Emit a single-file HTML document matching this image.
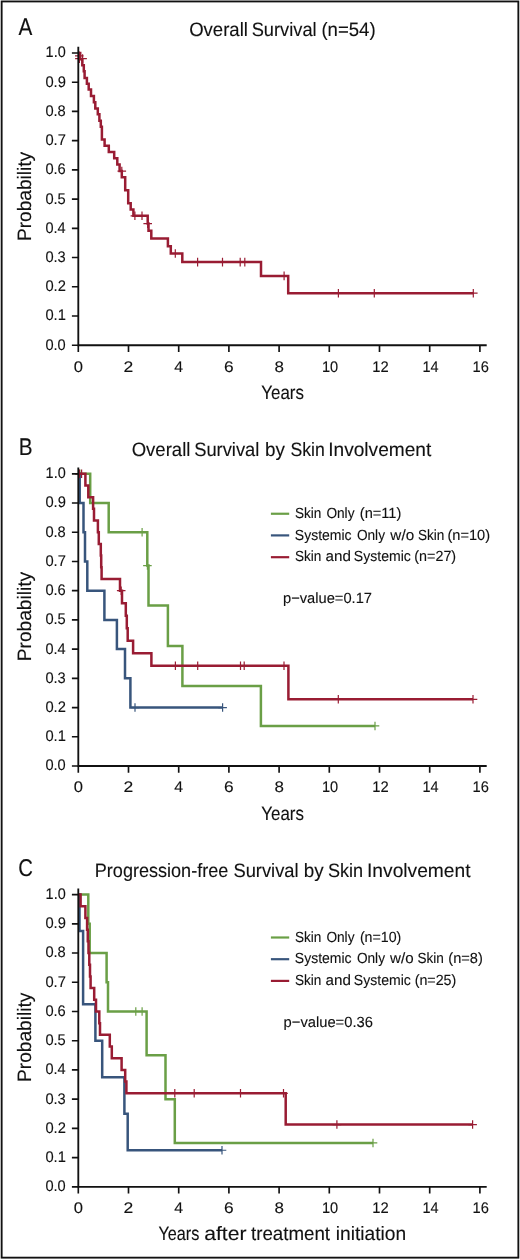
<!DOCTYPE html>
<html><head><meta charset="utf-8"><title>Survival curves</title>
<style>html,body{margin:0;padding:0;background:#fff}svg{display:block}text{font-family:"Liberation Sans",sans-serif;fill:#111;stroke:#111;stroke-width:0.12px;text-rendering:geometricPrecision}svg{will-change:transform}</style></head><body>
<svg width="520" height="1260" viewBox="0 0 520 1260">
<rect x="0" y="0" width="520" height="1260" fill="#ffffff"/>
<rect x="1.65" y="1.45" width="516.7" height="1256.2" fill="none" stroke="#111" stroke-width="1.85"/>
<path d="M78.3,53 H80.2 V59.2 H82.3 V65.2 H83.8 V71.3 H84.6 V78.1 H86.9 V83.8 H88.7 V89.5 H91 V95.9 H93.9 V102.2 H95.3 V108.6 H97.8 V114.2 H99.4 V120.8 H100.8 V126.8 H101.9 V139.6 H104.6 V145.8 H108.8 V151.9 H114.2 V158.3 H117.3 V164.6 H119.6 V171.1 H121.8 V177.2 H125.2 V190.3 H128.2 V203.3 H130.7 V209.5 H133.4 V215.8 H147.7 V223.6 H148.5 V230.8 H151.3 V238.5 H167.9 V246.2 H170.8 V253.5 H182.3 V262.1 H261 V275.9 H288.2 V293.2 H473.3" fill="none" stroke="#991c33" stroke-width="2.5" stroke-linejoin="miter"/>
<path d="M79.3,51.6 V60.2 M75,55.9 H83.6 M79.4,54.3 V62.9 M75.1,58.6 H83.7 M82.6,54.3 V62.9 M78.3,58.6 H86.9 M121.8,166.8 V175.4 M117.5,171.1 H126.1 M134.9,211.5 V220.1 M130.6,215.8 H139.2 M142,211.5 V220.1 M137.7,215.8 H146.3 M147.7,219.3 V227.9 M143.4,223.6 H152 M175.3,249.2 V257.8 M171,253.5 H179.6 M197.6,257.8 V266.4 M193.3,262.1 H201.9 M222.5,257.8 V266.4 M218.2,262.1 H226.8 M240.2,257.8 V266.4 M235.9,262.1 H244.5 M244.8,257.8 V266.4 M240.5,262.1 H249.1 M284.1,271.6 V280.2 M279.8,275.9 H288.4 M338.4,288.9 V297.5 M334.1,293.2 H342.7 M374.3,288.9 V297.5 M370,293.2 H378.6 M473.3,288.9 V297.5 M469,293.2 H477.6" fill="none" stroke="#991c33" stroke-width="1.2"/>
<path d="M78.3,473.8 H90.2 V503.02 H108.7 V532.24 H147.3 V565.55 H148.5 V605.58 H167.9 V645.91 H182.4 V685.94 H260.9 V725.97 H375" fill="none" stroke="#6a9f46" stroke-width="2.5" stroke-linejoin="miter"/>
<path d="M79.9,469.5 V478.1 M75.6,473.8 H84.2 M142.1,527.94 V536.54 M137.8,532.24 H146.4 M147.4,561.25 V569.85 M143.1,565.55 H151.7 M375,721.67 V730.27 M370.7,725.97 H379.3" fill="none" stroke="#6a9f46" stroke-width="1.2"/>
<path d="M78.3,473.8 H79.7 V503.02 H83.5 V532.24 H85 V561.46 H87.3 V590.68 H104.4 V619.9 H116.9 V649.12 H125 V678.34 H130.4 V707.56 H222.6" fill="none" stroke="#38557c" stroke-width="2.5" stroke-linejoin="miter"/>
<path d="M135,703.26 V711.86 M130.7,707.56 H139.3 M222.6,703.26 V711.86 M218.3,707.56 H226.9" fill="none" stroke="#38557c" stroke-width="1.2"/>
<path d="M78.3,473.8 H85.4 V485.49 H88.3 V497.18 H93.1 V508.86 H94 V520.55 H97.9 V532.24 H98.8 V543.93 H100.8 V555.62 H101.2 V567.3 H101.6 V578.99 H120 V590.68 H122 V603.24 H125.8 V615.81 H126.8 V628.37 H127.7 V640.65 H133.1 V653.21 H151.4 V665.78 H288.4 V699.29 H473" fill="none" stroke="#991c33" stroke-width="2.5" stroke-linejoin="miter"/>
<path d="M79.4,469.5 V478.1 M75.1,473.8 H83.7 M81.6,469.5 V478.1 M77.3,473.8 H85.9 M121.2,586.38 V594.98 M116.9,590.68 H125.5 M175.4,661.48 V670.08 M171.1,665.78 H179.7 M197.7,661.48 V670.08 M193.4,665.78 H202 M240.5,661.48 V670.08 M236.2,665.78 H244.8 M244.2,661.48 V670.08 M239.9,665.78 H248.5 M284,661.48 V670.08 M279.7,665.78 H288.3 M338.3,694.99 V703.59 M334,699.29 H342.6 M473,694.99 V703.59 M468.7,699.29 H477.3" fill="none" stroke="#991c33" stroke-width="1.2"/>
<path d="M270.9,513.75 H289.2" stroke="#6a9f46" stroke-width="2.2" fill="none"/>
<text x="294.89" y="518.25" font-size="14.7" text-anchor="start" textLength="26.43" lengthAdjust="spacingAndGlyphs" >Skin</text>
<text x="326.38" y="518.25" font-size="14.7" text-anchor="start" textLength="28.13" lengthAdjust="spacingAndGlyphs" >Only</text>
<text x="359.87" y="518.25" font-size="14.7" text-anchor="start" textLength="41.49" lengthAdjust="spacingAndGlyphs" >(n=11)</text>
<path d="M270.9,535.4 H289.2" stroke="#38557c" stroke-width="2.2" fill="none"/>
<text x="294.87" y="539.75" font-size="14.7" text-anchor="start" textLength="56.75" lengthAdjust="spacingAndGlyphs" >Systemic</text>
<text x="356.88" y="539.75" font-size="14.7" text-anchor="start" textLength="28.13" lengthAdjust="spacingAndGlyphs" >Only</text>
<text x="390.38" y="539.75" font-size="14.7" text-anchor="start" textLength="23.75" lengthAdjust="spacingAndGlyphs" >w/o</text>
<text x="417.89" y="539.75" font-size="14.7" text-anchor="start" textLength="26.43" lengthAdjust="spacingAndGlyphs" >Skin</text>
<text x="447.42" y="539.75" font-size="14.7" text-anchor="start" textLength="42.63" lengthAdjust="spacingAndGlyphs" >(n=10)</text>
<path d="M270.9,557.2 H289.2" stroke="#991c33" stroke-width="2.2" fill="none"/>
<text x="294.89" y="561.35" font-size="14.7" text-anchor="start" textLength="26.43" lengthAdjust="spacingAndGlyphs" >Skin</text>
<text x="325.64" y="561.35" font-size="14.7" text-anchor="start" textLength="25.32" lengthAdjust="spacingAndGlyphs" >and</text>
<text x="353.87" y="561.35" font-size="14.7" text-anchor="start" textLength="57" lengthAdjust="spacingAndGlyphs" >Systemic</text>
<text x="414.34" y="561.35" font-size="14.7" text-anchor="start" textLength="41.8" lengthAdjust="spacingAndGlyphs" >(n=27)</text>
<text x="283.02" y="602.8" font-size="14.7" text-anchor="start" textLength="88.96" lengthAdjust="spacingAndGlyphs" >p−value=0.17</text>
<path d="M78.3,894.6 H88.3 V923.82 H89.7 V953.04 H106.6 V982.26 H108 V1011.48 H146.6 V1055.31 H165.5 V1099.14 H174.8 V1142.97 H373" fill="none" stroke="#6a9f46" stroke-width="2.5" stroke-linejoin="miter"/>
<path d="M135.8,1007.18 V1015.78 M131.5,1011.48 H140.1 M142.1,1007.18 V1015.78 M137.8,1011.48 H146.4 M373,1138.67 V1147.27 M368.7,1142.97 H377.3" fill="none" stroke="#6a9f46" stroke-width="1.2"/>
<path d="M78.3,894.6 H79.5 V931.12 H83.1 V1004.17 H95.4 V1040.7 H102.2 V1077.22 H124.4 V1113.75 H127.7 V1150.27 H222" fill="none" stroke="#38557c" stroke-width="2.5" stroke-linejoin="miter"/>
<path d="M222,1145.97 V1154.57 M217.7,1150.27 H226.3" fill="none" stroke="#38557c" stroke-width="1.2"/>
<path d="M78.3,894.6 H80.6 V906.29 H85.4 V917.98 H87.1 V929.66 H87.8 V941.35 H88.5 V953.04 H89.3 V964.73 H90 V976.42 H90.6 V988.1 H94.2 V999.79 H96 V1011.48 H99.3 V1023.17 H100 V1034.86 H109.8 V1046.54 H111.8 V1058.23 H121.6 V1069.92 H125.2 V1081.61 H126.4 V1093.3 H285.7 V1124.56 H472.6" fill="none" stroke="#991c33" stroke-width="2.5" stroke-linejoin="miter"/>
<path d="M174.8,1089 V1097.6 M170.5,1093.3 H179.1 M194.2,1089 V1097.6 M189.9,1093.3 H198.5 M240.5,1089 V1097.6 M236.2,1093.3 H244.8 M283.5,1089 V1097.6 M279.2,1093.3 H287.8 M336.9,1120.26 V1128.86 M332.6,1124.56 H341.2 M472.6,1120.26 V1128.86 M468.3,1124.56 H476.9" fill="none" stroke="#991c33" stroke-width="1.2"/>
<path d="M270.9,937.5 H289.2" stroke="#6a9f46" stroke-width="2.2" fill="none"/>
<text x="294.89" y="941.65" font-size="14.7" text-anchor="start" textLength="26.43" lengthAdjust="spacingAndGlyphs" >Skin</text>
<text x="326.38" y="941.65" font-size="14.7" text-anchor="start" textLength="28.13" lengthAdjust="spacingAndGlyphs" >Only</text>
<text x="359.9" y="941.65" font-size="14.7" text-anchor="start" textLength="41.43" lengthAdjust="spacingAndGlyphs" >(n=10)</text>
<path d="M270.9,959.2 H289.2" stroke="#38557c" stroke-width="2.2" fill="none"/>
<text x="294.87" y="963.35" font-size="14.7" text-anchor="start" textLength="56.75" lengthAdjust="spacingAndGlyphs" >Systemic</text>
<text x="356.88" y="963.35" font-size="14.7" text-anchor="start" textLength="28.13" lengthAdjust="spacingAndGlyphs" >Only</text>
<text x="390.08" y="963.35" font-size="14.7" text-anchor="start" textLength="23.55" lengthAdjust="spacingAndGlyphs" >w/o</text>
<text x="417.39" y="963.35" font-size="14.7" text-anchor="start" textLength="26.43" lengthAdjust="spacingAndGlyphs" >Skin</text>
<text x="448.37" y="963.35" font-size="14.7" text-anchor="start" textLength="34.46" lengthAdjust="spacingAndGlyphs" >(n=8)</text>
<path d="M270.9,980.9 H289.2" stroke="#991c33" stroke-width="2.2" fill="none"/>
<text x="294.89" y="985.05" font-size="14.7" text-anchor="start" textLength="26.43" lengthAdjust="spacingAndGlyphs" >Skin</text>
<text x="325.64" y="985.05" font-size="14.7" text-anchor="start" textLength="25.32" lengthAdjust="spacingAndGlyphs" >and</text>
<text x="353.87" y="985.05" font-size="14.7" text-anchor="start" textLength="57" lengthAdjust="spacingAndGlyphs" >Systemic</text>
<text x="414.64" y="985.05" font-size="14.7" text-anchor="start" textLength="41.69" lengthAdjust="spacingAndGlyphs" >(n=25)</text>
<text x="283.62" y="1026.5" font-size="14.7" text-anchor="start" textLength="89.29" lengthAdjust="spacingAndGlyphs" >p−value=0.36</text>
<path d="M78.3,46.8 V345.2 H486.7" fill="none" stroke="#111111" stroke-width="1.85"/>
<path d="M78.3,345.2 H71.9 M78.3,315.98 H71.9 M78.3,286.76 H71.9 M78.3,257.54 H71.9 M78.3,228.32 H71.9 M78.3,199.1 H71.9 M78.3,169.88 H71.9 M78.3,140.66 H71.9 M78.3,111.44 H71.9 M78.3,82.22 H71.9 M78.3,53 H71.9 M78.3,345.2 V351.9 M128.5,345.2 V351.9 M178.7,345.2 V351.9 M228.9,345.2 V351.9 M279.1,345.2 V351.9 M329.3,345.2 V351.9 M379.5,345.2 V351.9 M429.7,345.2 V351.9 M479.9,345.2 V351.9" fill="none" stroke="#111111" stroke-width="1.65"/>
<text x="45.39" y="349.65" font-size="15.4" text-anchor="start" textLength="20.33" lengthAdjust="spacingAndGlyphs" stroke="#111" stroke-width="0.25">0.0</text>
<text x="45.38" y="320.43" font-size="15.4" text-anchor="start" textLength="20.48" lengthAdjust="spacingAndGlyphs" stroke="#111" stroke-width="0.25">0.1</text>
<text x="45.38" y="291.21" font-size="15.4" text-anchor="start" textLength="20.48" lengthAdjust="spacingAndGlyphs" stroke="#111" stroke-width="0.25">0.2</text>
<text x="45.39" y="261.99" font-size="15.4" text-anchor="start" textLength="20.4" lengthAdjust="spacingAndGlyphs" stroke="#111" stroke-width="0.25">0.3</text>
<text x="45.39" y="232.77" font-size="15.4" text-anchor="start" textLength="20.17" lengthAdjust="spacingAndGlyphs" stroke="#111" stroke-width="0.25">0.4</text>
<text x="45.39" y="203.55" font-size="15.4" text-anchor="start" textLength="20.4" lengthAdjust="spacingAndGlyphs" stroke="#111" stroke-width="0.25">0.5</text>
<text x="45.39" y="174.33" font-size="15.4" text-anchor="start" textLength="20.4" lengthAdjust="spacingAndGlyphs" stroke="#111" stroke-width="0.25">0.6</text>
<text x="45.38" y="145.11" font-size="15.4" text-anchor="start" textLength="20.48" lengthAdjust="spacingAndGlyphs" stroke="#111" stroke-width="0.25">0.7</text>
<text x="45.39" y="115.89" font-size="15.4" text-anchor="start" textLength="20.4" lengthAdjust="spacingAndGlyphs" stroke="#111" stroke-width="0.25">0.8</text>
<text x="45.38" y="86.67" font-size="15.4" text-anchor="start" textLength="20.48" lengthAdjust="spacingAndGlyphs" stroke="#111" stroke-width="0.25">0.9</text>
<text x="45.62" y="57.45" font-size="15.4" text-anchor="start" textLength="20.09" lengthAdjust="spacingAndGlyphs" stroke="#111" stroke-width="0.25">1.0</text>
<text x="73.72" y="371.6" font-size="15.4" text-anchor="start" textLength="9.23" lengthAdjust="spacingAndGlyphs" stroke="#111" stroke-width="0.25">0</text>
<text x="123.62" y="371.6" font-size="15.4" text-anchor="start" textLength="9.73" lengthAdjust="spacingAndGlyphs" stroke="#111" stroke-width="0.25">2</text>
<text x="174.38" y="371.6" font-size="15.4" text-anchor="start" textLength="8.78" lengthAdjust="spacingAndGlyphs" stroke="#111" stroke-width="0.25">4</text>
<text x="224.03" y="371.6" font-size="15.4" text-anchor="start" textLength="9.63" lengthAdjust="spacingAndGlyphs" stroke="#111" stroke-width="0.25">6</text>
<text x="274.42" y="371.6" font-size="15.4" text-anchor="start" textLength="9.43" lengthAdjust="spacingAndGlyphs" stroke="#111" stroke-width="0.25">8</text>
<text x="322.01" y="371.6" font-size="15.4" text-anchor="start" textLength="16.24" lengthAdjust="spacingAndGlyphs" stroke="#111" stroke-width="0.25">10</text>
<text x="372.19" y="371.6" font-size="15.4" text-anchor="start" textLength="16.4" lengthAdjust="spacingAndGlyphs" stroke="#111" stroke-width="0.25">12</text>
<text x="422.42" y="371.6" font-size="15.4" text-anchor="start" textLength="16.08" lengthAdjust="spacingAndGlyphs" stroke="#111" stroke-width="0.25">14</text>
<text x="472.6" y="371.6" font-size="15.4" text-anchor="start" textLength="16.32" lengthAdjust="spacingAndGlyphs" stroke="#111" stroke-width="0.25">16</text>
<text x="261.26" y="398.7" font-size="19.4" text-anchor="start" textLength="42.64" lengthAdjust="spacingAndGlyphs" >Years</text>
<g transform="translate(31.4,239.6) rotate(-90)">
<text x="-1.53" y="0" font-size="19.4" text-anchor="start" textLength="89.31" lengthAdjust="spacingAndGlyphs" >Probability</text>
</g>
<text x="189.17" y="36.3" font-size="19.4" text-anchor="start" textLength="58.75" lengthAdjust="spacingAndGlyphs" >Overall</text>
<text x="251.68" y="36.3" font-size="19.4" text-anchor="start" textLength="64.95" lengthAdjust="spacingAndGlyphs" >Survival</text>
<text x="321.39" y="36.3" font-size="19.4" text-anchor="start" textLength="54.2" lengthAdjust="spacingAndGlyphs" >(n=54)</text>
<text x="18.5" y="34.8" font-size="24.2" text-anchor="start" textLength="13.84" lengthAdjust="spacingAndGlyphs" >A</text>
<path d="M78.3,467.6 V766 H486.7" fill="none" stroke="#111111" stroke-width="1.85"/>
<path d="M78.3,766 H71.9 M78.3,736.78 H71.9 M78.3,707.56 H71.9 M78.3,678.34 H71.9 M78.3,649.12 H71.9 M78.3,619.9 H71.9 M78.3,590.68 H71.9 M78.3,561.46 H71.9 M78.3,532.24 H71.9 M78.3,503.02 H71.9 M78.3,473.8 H71.9 M78.3,766 V772.7 M128.5,766 V772.7 M178.7,766 V772.7 M228.9,766 V772.7 M279.1,766 V772.7 M329.3,766 V772.7 M379.5,766 V772.7 M429.7,766 V772.7 M479.9,766 V772.7" fill="none" stroke="#111111" stroke-width="1.65"/>
<text x="45.39" y="770.45" font-size="15.4" text-anchor="start" textLength="20.33" lengthAdjust="spacingAndGlyphs" stroke="#111" stroke-width="0.25">0.0</text>
<text x="45.38" y="741.23" font-size="15.4" text-anchor="start" textLength="20.48" lengthAdjust="spacingAndGlyphs" stroke="#111" stroke-width="0.25">0.1</text>
<text x="45.38" y="712.01" font-size="15.4" text-anchor="start" textLength="20.48" lengthAdjust="spacingAndGlyphs" stroke="#111" stroke-width="0.25">0.2</text>
<text x="45.39" y="682.79" font-size="15.4" text-anchor="start" textLength="20.4" lengthAdjust="spacingAndGlyphs" stroke="#111" stroke-width="0.25">0.3</text>
<text x="45.39" y="653.57" font-size="15.4" text-anchor="start" textLength="20.17" lengthAdjust="spacingAndGlyphs" stroke="#111" stroke-width="0.25">0.4</text>
<text x="45.39" y="624.35" font-size="15.4" text-anchor="start" textLength="20.4" lengthAdjust="spacingAndGlyphs" stroke="#111" stroke-width="0.25">0.5</text>
<text x="45.39" y="595.13" font-size="15.4" text-anchor="start" textLength="20.4" lengthAdjust="spacingAndGlyphs" stroke="#111" stroke-width="0.25">0.6</text>
<text x="45.38" y="565.91" font-size="15.4" text-anchor="start" textLength="20.48" lengthAdjust="spacingAndGlyphs" stroke="#111" stroke-width="0.25">0.7</text>
<text x="45.39" y="536.69" font-size="15.4" text-anchor="start" textLength="20.4" lengthAdjust="spacingAndGlyphs" stroke="#111" stroke-width="0.25">0.8</text>
<text x="45.38" y="507.47" font-size="15.4" text-anchor="start" textLength="20.48" lengthAdjust="spacingAndGlyphs" stroke="#111" stroke-width="0.25">0.9</text>
<text x="45.62" y="478.25" font-size="15.4" text-anchor="start" textLength="20.09" lengthAdjust="spacingAndGlyphs" stroke="#111" stroke-width="0.25">1.0</text>
<text x="73.72" y="792.4" font-size="15.4" text-anchor="start" textLength="9.23" lengthAdjust="spacingAndGlyphs" stroke="#111" stroke-width="0.25">0</text>
<text x="123.62" y="792.4" font-size="15.4" text-anchor="start" textLength="9.73" lengthAdjust="spacingAndGlyphs" stroke="#111" stroke-width="0.25">2</text>
<text x="174.38" y="792.4" font-size="15.4" text-anchor="start" textLength="8.78" lengthAdjust="spacingAndGlyphs" stroke="#111" stroke-width="0.25">4</text>
<text x="224.03" y="792.4" font-size="15.4" text-anchor="start" textLength="9.63" lengthAdjust="spacingAndGlyphs" stroke="#111" stroke-width="0.25">6</text>
<text x="274.42" y="792.4" font-size="15.4" text-anchor="start" textLength="9.43" lengthAdjust="spacingAndGlyphs" stroke="#111" stroke-width="0.25">8</text>
<text x="322.01" y="792.4" font-size="15.4" text-anchor="start" textLength="16.24" lengthAdjust="spacingAndGlyphs" stroke="#111" stroke-width="0.25">10</text>
<text x="372.19" y="792.4" font-size="15.4" text-anchor="start" textLength="16.4" lengthAdjust="spacingAndGlyphs" stroke="#111" stroke-width="0.25">12</text>
<text x="422.42" y="792.4" font-size="15.4" text-anchor="start" textLength="16.08" lengthAdjust="spacingAndGlyphs" stroke="#111" stroke-width="0.25">14</text>
<text x="472.6" y="792.4" font-size="15.4" text-anchor="start" textLength="16.32" lengthAdjust="spacingAndGlyphs" stroke="#111" stroke-width="0.25">16</text>
<text x="261.26" y="819.7" font-size="19.4" text-anchor="start" textLength="42.64" lengthAdjust="spacingAndGlyphs" >Years</text>
<g transform="translate(31.4,659.7) rotate(-90)">
<text x="-1.53" y="0" font-size="19.4" text-anchor="start" textLength="89.31" lengthAdjust="spacingAndGlyphs" >Probability</text>
</g>
<text x="131.67" y="456.4" font-size="19.4" text-anchor="start" textLength="58.75" lengthAdjust="spacingAndGlyphs" >Overall</text>
<text x="194.18" y="456.4" font-size="19.4" text-anchor="start" textLength="65.21" lengthAdjust="spacingAndGlyphs" >Survival</text>
<text x="265.12" y="456.4" font-size="19.4" text-anchor="start" textLength="19.9" lengthAdjust="spacingAndGlyphs" >by</text>
<text x="290.46" y="456.4" font-size="19.4" text-anchor="start" textLength="34.36" lengthAdjust="spacingAndGlyphs" >Skin</text>
<text x="328.28" y="456.4" font-size="19.4" text-anchor="start" textLength="103" lengthAdjust="spacingAndGlyphs" >Involvement</text>
<text x="18.74" y="455" font-size="24.2" text-anchor="start" textLength="13.84" lengthAdjust="spacingAndGlyphs" >B</text>
<path d="M78.3,888.4 V1186.8 H486.7" fill="none" stroke="#111111" stroke-width="1.85"/>
<path d="M78.3,1186.8 H71.9 M78.3,1157.58 H71.9 M78.3,1128.36 H71.9 M78.3,1099.14 H71.9 M78.3,1069.92 H71.9 M78.3,1040.7 H71.9 M78.3,1011.48 H71.9 M78.3,982.26 H71.9 M78.3,953.04 H71.9 M78.3,923.82 H71.9 M78.3,894.6 H71.9 M78.3,1186.8 V1193.5 M128.5,1186.8 V1193.5 M178.7,1186.8 V1193.5 M228.9,1186.8 V1193.5 M279.1,1186.8 V1193.5 M329.3,1186.8 V1193.5 M379.5,1186.8 V1193.5 M429.7,1186.8 V1193.5 M479.9,1186.8 V1193.5" fill="none" stroke="#111111" stroke-width="1.65"/>
<text x="45.39" y="1191.25" font-size="15.4" text-anchor="start" textLength="20.33" lengthAdjust="spacingAndGlyphs" stroke="#111" stroke-width="0.25">0.0</text>
<text x="45.38" y="1162.03" font-size="15.4" text-anchor="start" textLength="20.48" lengthAdjust="spacingAndGlyphs" stroke="#111" stroke-width="0.25">0.1</text>
<text x="45.38" y="1132.81" font-size="15.4" text-anchor="start" textLength="20.48" lengthAdjust="spacingAndGlyphs" stroke="#111" stroke-width="0.25">0.2</text>
<text x="45.39" y="1103.59" font-size="15.4" text-anchor="start" textLength="20.4" lengthAdjust="spacingAndGlyphs" stroke="#111" stroke-width="0.25">0.3</text>
<text x="45.39" y="1074.37" font-size="15.4" text-anchor="start" textLength="20.17" lengthAdjust="spacingAndGlyphs" stroke="#111" stroke-width="0.25">0.4</text>
<text x="45.39" y="1045.15" font-size="15.4" text-anchor="start" textLength="20.4" lengthAdjust="spacingAndGlyphs" stroke="#111" stroke-width="0.25">0.5</text>
<text x="45.39" y="1015.93" font-size="15.4" text-anchor="start" textLength="20.4" lengthAdjust="spacingAndGlyphs" stroke="#111" stroke-width="0.25">0.6</text>
<text x="45.38" y="986.71" font-size="15.4" text-anchor="start" textLength="20.48" lengthAdjust="spacingAndGlyphs" stroke="#111" stroke-width="0.25">0.7</text>
<text x="45.39" y="957.49" font-size="15.4" text-anchor="start" textLength="20.4" lengthAdjust="spacingAndGlyphs" stroke="#111" stroke-width="0.25">0.8</text>
<text x="45.38" y="928.27" font-size="15.4" text-anchor="start" textLength="20.48" lengthAdjust="spacingAndGlyphs" stroke="#111" stroke-width="0.25">0.9</text>
<text x="45.62" y="899.05" font-size="15.4" text-anchor="start" textLength="20.09" lengthAdjust="spacingAndGlyphs" stroke="#111" stroke-width="0.25">1.0</text>
<text x="73.72" y="1213.2" font-size="15.4" text-anchor="start" textLength="9.23" lengthAdjust="spacingAndGlyphs" stroke="#111" stroke-width="0.25">0</text>
<text x="123.62" y="1213.2" font-size="15.4" text-anchor="start" textLength="9.73" lengthAdjust="spacingAndGlyphs" stroke="#111" stroke-width="0.25">2</text>
<text x="174.38" y="1213.2" font-size="15.4" text-anchor="start" textLength="8.78" lengthAdjust="spacingAndGlyphs" stroke="#111" stroke-width="0.25">4</text>
<text x="224.03" y="1213.2" font-size="15.4" text-anchor="start" textLength="9.63" lengthAdjust="spacingAndGlyphs" stroke="#111" stroke-width="0.25">6</text>
<text x="274.42" y="1213.2" font-size="15.4" text-anchor="start" textLength="9.43" lengthAdjust="spacingAndGlyphs" stroke="#111" stroke-width="0.25">8</text>
<text x="322.01" y="1213.2" font-size="15.4" text-anchor="start" textLength="16.24" lengthAdjust="spacingAndGlyphs" stroke="#111" stroke-width="0.25">10</text>
<text x="372.19" y="1213.2" font-size="15.4" text-anchor="start" textLength="16.4" lengthAdjust="spacingAndGlyphs" stroke="#111" stroke-width="0.25">12</text>
<text x="422.42" y="1213.2" font-size="15.4" text-anchor="start" textLength="16.08" lengthAdjust="spacingAndGlyphs" stroke="#111" stroke-width="0.25">14</text>
<text x="472.6" y="1213.2" font-size="15.4" text-anchor="start" textLength="16.32" lengthAdjust="spacingAndGlyphs" stroke="#111" stroke-width="0.25">16</text>
<text x="158.43" y="1239.8" font-size="19.4" text-anchor="start" textLength="40.9" lengthAdjust="spacingAndGlyphs" >Years</text>
<text x="204.15" y="1239.8" font-size="19.4" text-anchor="start" textLength="42.33" lengthAdjust="spacingAndGlyphs" >after</text>
<text x="250.97" y="1239.8" font-size="19.4" text-anchor="start" textLength="79.11" lengthAdjust="spacingAndGlyphs" >treatment</text>
<text x="335.75" y="1239.8" font-size="19.4" text-anchor="start" textLength="70.38" lengthAdjust="spacingAndGlyphs" >initiation</text>
<g transform="translate(31.4,1080.4) rotate(-90)">
<text x="-1.53" y="0" font-size="19.4" text-anchor="start" textLength="89.31" lengthAdjust="spacingAndGlyphs" >Probability</text>
</g>
<text x="94.81" y="876.7" font-size="19.4" text-anchor="start" textLength="133.46" lengthAdjust="spacingAndGlyphs" >Progression-free</text>
<text x="233.43" y="876.7" font-size="19.4" text-anchor="start" textLength="65.21" lengthAdjust="spacingAndGlyphs" >Survival</text>
<text x="303.87" y="876.7" font-size="19.4" text-anchor="start" textLength="19.9" lengthAdjust="spacingAndGlyphs" >by</text>
<text x="327.94" y="876.7" font-size="19.4" text-anchor="start" textLength="35.15" lengthAdjust="spacingAndGlyphs" >Skin</text>
<text x="367.02" y="876.7" font-size="19.4" text-anchor="start" textLength="103.51" lengthAdjust="spacingAndGlyphs" >Involvement</text>
<text x="18.28" y="875.5" font-size="24.2" text-anchor="start" textLength="14.67" lengthAdjust="spacingAndGlyphs" >C</text>
</svg></body></html>
